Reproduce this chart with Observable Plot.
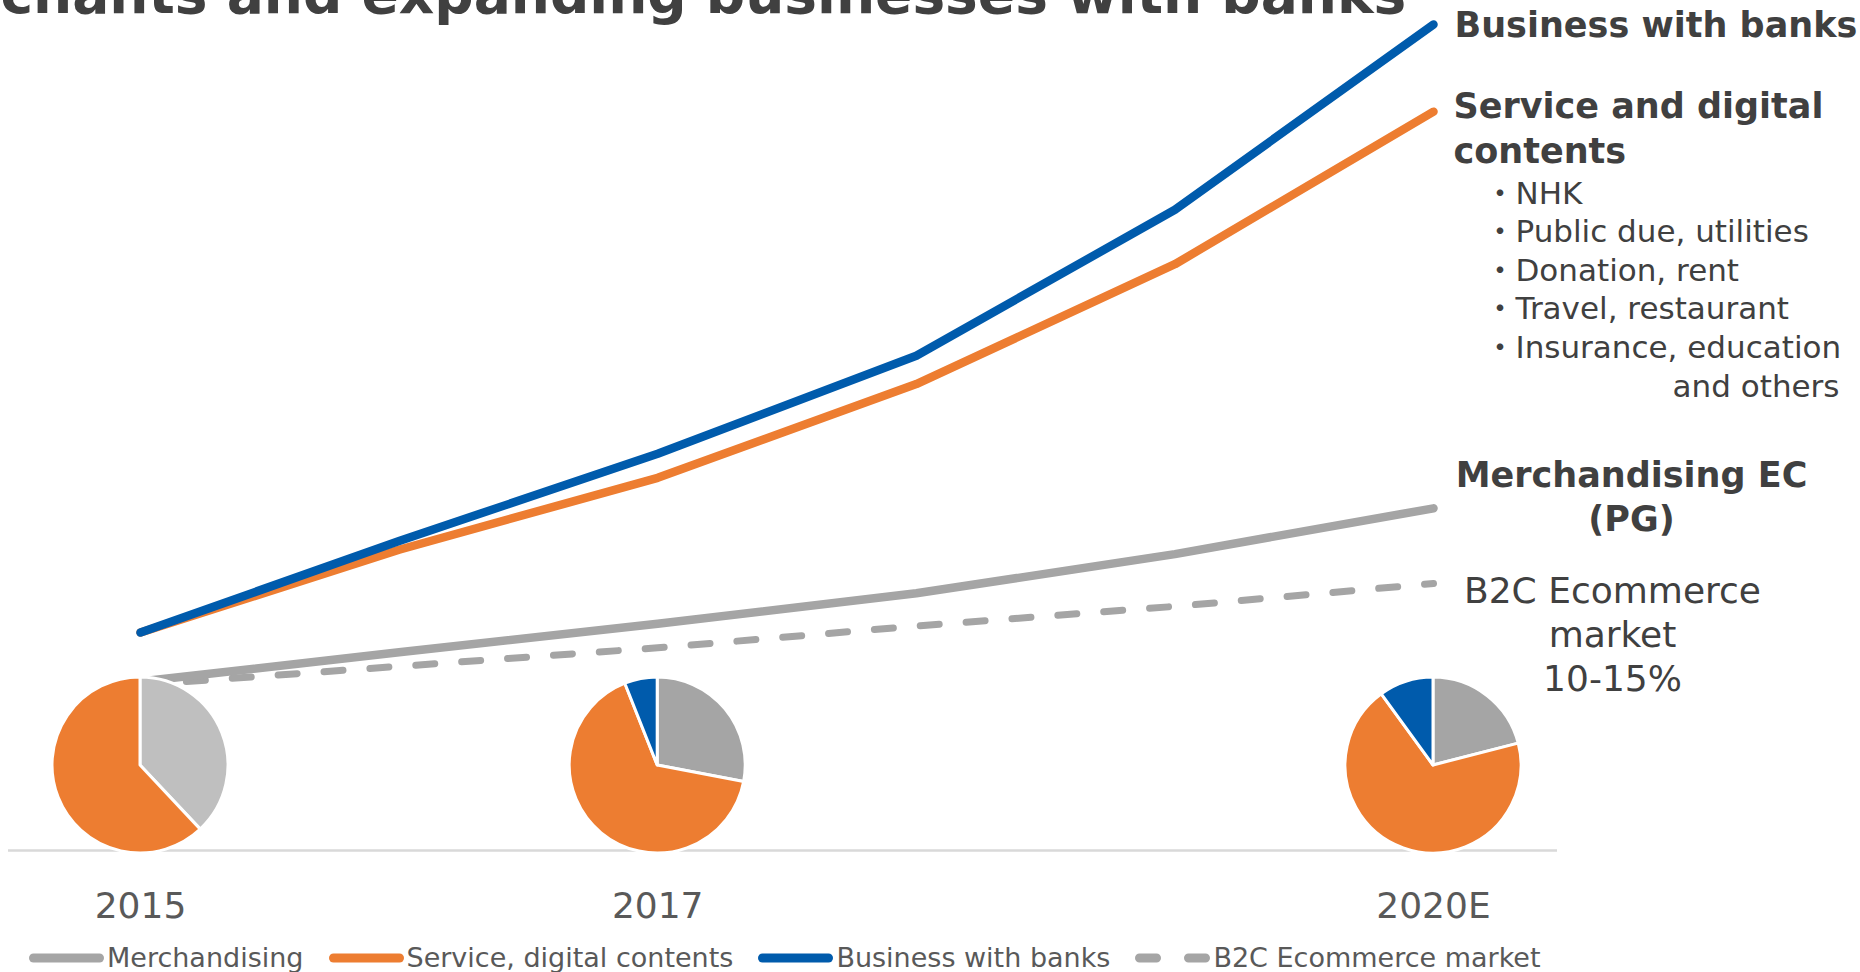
<!DOCTYPE html>
<html>
<head>
<meta charset="utf-8">
<script src="https://cdn.jsdelivr.net/npm/d3@7"></script>
<script src="https://cdn.jsdelivr.net/npm/@observablehq/plot@0.6"></script>
<style>
  html, body { margin: 0; padding: 0; background: #fff; width: 1860px; height: 972px; overflow: hidden;
    font-family: "DejaVu Sans", "Noto Sans CJK JP", sans-serif; }
  #chart { position: absolute; left: 0; top: 0; }
  #legend { position: absolute; left: 29px; top: 942px; display: flex; align-items: center;
    font-size: 27px; color: #595959; white-space: nowrap; line-height: 31px; }
  .item { display: flex; align-items: center; margin-right: 25px; }
  .item svg { margin-right: 3px; display: block; }
</style>
</head>
<body>
<div id="chart"></div>
<div id="legend"></div>
<script>
// ---- data ----
const years = [2015, 2016, 2017, 2018, 2019, 2020];
const merchandising = [77.5, 91, 104, 118, 136, 157];
const service = [100, 138, 171, 214, 269, 339];
const banks = [100, 142, 182, 227, 294, 379];
const b2cMarket = [76, 84.5, 93, 103, 112, 122.5];

const seriesNames = ["Merchandising", "Service, digital contents", "Business with banks", "B2C Ecommerce market"];

const tickYears = [2015, 2017, 2020];
const tickLabels = ["2015", "2017", "2020E"];

// pie shares (%), clockwise from 12 o'clock: merchandising, service, banks
const pieYears = [2015, 2017, 2020];
const pieMerch = [38, 28, 21];
const pieService = [62, 66, 69];
const pieBanks = [0, 6, 10];

const titleText = "chants and expanding businesses with banks";
const banksLabel = "Business with banks";
const serviceLabel = "Service and digital\ncontents";
const serviceItems = "・NHK\n・Public due, utilities\n・Donation, rent\n・Travel, restaurant\n・Insurance, education";
const serviceItemsTail = "and others";
const merchLabel = "Merchandising EC\n(PG)";
const marketLabel = "B2C Ecommerce\nmarket\n10-15%";

// ---- styles ----
const GRAY = "#A5A5A5", GRAY_LIGHT = "#BFBFBF", ORANGE = "#ED7D31", BLUE = "#005BAC";
const TEXT_DARK = "#404040", TEXT_MID = "#595959";
const FONT = "DejaVu Sans, Noto Sans CJK JP, sans-serif";
const seriesColors = [GRAY, ORANGE, BLUE, GRAY];
const last = years.length - 1;

function pies(index, scales, values, dimensions) {
  const g = d3.create("svg:g");
  const cy = dimensions.height - dimensions.marginBottom - 85;
  const arc = d3.arc().innerRadius(0).outerRadius(88);
  pieYears.forEach((yr, i) => {
    const slices = [
      {v: pieMerch[i], c: i === 0 ? GRAY_LIGHT : GRAY},
      {v: pieService[i], c: ORANGE},
      {v: pieBanks[i], c: BLUE}
    ];
    const arcs = d3.pie().sort(null).value(d => d.v)(slices).filter(a => a.data.v > 0);
    g.append("g")
      .attr("transform", `translate(${scales.x(yr)},${cy})`)
      .selectAll("path").data(arcs).join("path")
      .attr("d", arc)
      .attr("fill", d => d.data.c)
      .attr("stroke", "white")
      .attr("stroke-width", 3)
      .attr("stroke-linejoin", "round");
  });
  return g.node();
}

const lineOpts = {strokeWidth: 8.5, strokeLinecap: "round", strokeLinejoin: "round"};

const chart = Plot.plot({
  width: 1860,
  height: 930,
  marginLeft: 8,
  marginRight: 303,
  marginTop: 0,
  marginBottom: 80,
  x: {domain: [2015, 2020], range: [140, 1433], axis: null},
  y: {domain: [0, 390], range: [850, 0], axis: null},
  style: {fontFamily: FONT, background: "white", overflow: "visible"},
  marks: [
    Plot.ruleY([0], {stroke: "#D9D9D9", strokeWidth: 2.5}),
    Plot.line(years, {x: years, y: b2cMarket, stroke: GRAY, strokeWidth: 7, strokeLinecap: "round", strokeDasharray: "19 27"}),
    Plot.line(years, {x: years, y: merchandising, stroke: GRAY, ...lineOpts}),
    Plot.line(years, {x: years, y: service, stroke: ORANGE, ...lineOpts}),
    Plot.line(years, {x: years, y: banks, stroke: BLUE, ...lineOpts}),
    pies,
    // x labels
    Plot.text(tickLabels, {x: tickYears, text: d => d, frameAnchor: "bottom", dy: 67, lineAnchor: "bottom",
      fontSize: 36, fill: TEXT_MID}),
    // title (cut at top, as in the original slide)
    Plot.text([titleText], {text: d => d, frameAnchor: "top-left", dx: -8, dy: 12, lineAnchor: "bottom",
      textAnchor: "start", fontSize: 55, fontWeight: "bold", fill: TEXT_DARK}),
    // direct labels
    Plot.text([banksLabel], {x: [years[last]], y: [banks[last]], text: d => d, textAnchor: "start", lineAnchor: "bottom",
      dx: 21, dy: 13, fontSize: 35, fontWeight: "bold", fill: TEXT_DARK}),
    Plot.text([serviceLabel], {x: [years[last]], y: [service[last]], text: d => d, textAnchor: "start", lineAnchor: "bottom",
      dx: 20, dy: 51, lineHeight: 1.286, fontSize: 35, fontWeight: "bold", fill: TEXT_DARK}),
    Plot.text([serviceItems], {x: [years[last]], y: [service[last]], text: d => d, textAnchor: "start", lineAnchor: "bottom",
      dx: 51, dy: 246, lineHeight: 1.242, fontSize: 31, fill: TEXT_DARK}),
    Plot.text([serviceItemsTail], {x: [years[last]], y: [service[last]], text: d => d, textAnchor: "end", lineAnchor: "bottom",
      dx: 406, dy: 285, fontSize: 31, fill: TEXT_DARK}),
    Plot.text([merchLabel], {x: [years[last]], y: [merchandising[last]], text: d => d, textAnchor: "middle", lineAnchor: "bottom",
      dx: 198, dy: 23, lineHeight: 1.257, fontSize: 35, fontWeight: "bold", fill: TEXT_DARK}),
    Plot.text([marketLabel], {x: [years[last]], y: [b2cMarket[last]], text: d => d, textAnchor: "middle", lineAnchor: "bottom",
      dx: 179, dy: 107, lineHeight: 1.222, fontSize: 36, fill: TEXT_DARK})
  ]
});
document.getElementById("chart").appendChild(chart);

// legend
const legend = d3.select("#legend");
seriesNames.forEach((name, i) => {
  const item = legend.append("div").attr("class", "item");
  const s = item.append("svg").attr("width", 75).attr("height", 12);
  s.append("line")
    .attr("x1", 4.5).attr("x2", 70.5).attr("y1", 6).attr("y2", 6)
    .attr("stroke", seriesColors[i]).attr("stroke-width", 9).attr("stroke-linecap", "round")
    .attr("stroke-dasharray", i === 3 ? "17 32" : null);
  item.append("span").text(name);
});
</script>
</body>
</html>
